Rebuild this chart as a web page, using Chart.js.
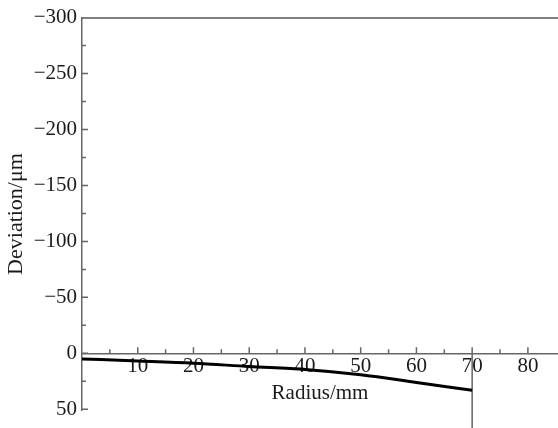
<!DOCTYPE html>
<html>
<head>
<meta charset="utf-8">
<script src="https://cdn.jsdelivr.net/npm/chart.js@4/dist/chart.umd.min.js"></script>
<style>
  html, body { margin: 0; padding: 0; background: #fff; }
  #wrap { width: 558px; height: 428px; position: relative; }
</style>
</head>
<body>
<div id="wrap"><canvas id="c"></canvas></div>
<script>
// ---- data ----
const radius = [0, 10, 20, 30, 40, 50, 60, 70];
const deviation = [5, 6.8, 8.8, 11.8, 14.5, 19.2, 26, 33];
const boundaryX = [70, 70];
const boundaryY = [0, 70];
const xTickValues = [10, 20, 30, 40, 50, 60, 70, 80];
const yTickValues = [-300, -250, -200, -150, -100, -50, 0, 50];
const xMinorValues = [5, 15, 25, 35, 45, 55, 65, 75];
const yMinorValues = [-275, -225, -175, -125, -75, -25, 25];

const FONT = "'Liberation Serif', 'Times New Roman', serif";
const AXIS_COLOR = '#666';

const tickMarks = {
  id: 'tickMarks',
  afterDatasetsDraw(chart) {
    const ctx = chart.ctx, x = chart.scales.x, y = chart.scales.y;
    const y0 = y.getPixelForValue(0);
    const xl = x.left;
    ctx.save();
    ctx.strokeStyle = AXIS_COLOR;
    ctx.lineWidth = 1.5;
    ctx.beginPath();
    xTickValues.forEach(v => { const px = x.getPixelForValue(v); ctx.moveTo(px, y0); ctx.lineTo(px, y0 - 6); });
    xMinorValues.forEach(v => { const px = x.getPixelForValue(v); ctx.moveTo(px, y0); ctx.lineTo(px, y0 - 4); });
    yTickValues.filter(v => v !== -300).forEach(v => { const py = y.getPixelForValue(v); ctx.moveTo(xl, py); ctx.lineTo(xl + 6, py); });
    yMinorValues.forEach(v => { const py = y.getPixelForValue(v); ctx.moveTo(xl, py); ctx.lineTo(xl + 4, py); });
    ctx.stroke();
    ctx.restore();
  }
};

new Chart(document.getElementById('c'), {
  type: 'line',
  data: {
    datasets: [
      {
        label: 'Deviation',
        data: radius.map((r, i) => ({ x: r, y: deviation[i] })),
        borderColor: '#000',
        borderWidth: 3,
        pointRadius: 0,
        tension: 0.4,
        cubicInterpolationMode: 'monotone',
        fill: false
      },
      {
        label: 'Boundary',
        data: boundaryX.map((r, i) => ({ x: r, y: boundaryY[i] })),
        borderColor: AXIS_COLOR,
        borderWidth: 1.5,
        pointRadius: 0,
        clip: false,
        fill: false
      }
    ]
  },
  options: {
    responsive: true,
    maintainAspectRatio: false,
    animation: false,
    events: [],
    layout: { padding: { left: 0, top: 17, right: 0, bottom: 13 } },
    plugins: { legend: { display: false }, tooltip: { enabled: false } },
    scales: {
      x: {
        type: 'linear',
        position: { y: 0 },
        min: 0,
        max: 85.4,
        afterBuildTicks(scale) { scale.ticks = xTickValues.map(v => ({ value: v })); },
        grid: { display: false, drawTicks: false },
        border: { display: true, color: AXIS_COLOR, width: 1.5 },
        ticks: {
          padding: 1,
          maxRotation: 0,
          autoSkip: false,
          color: '#1a1a1a',
          font: { family: FONT, size: 21 }
        },
        title: {
          display: true,
          text: 'Radius/mm',
          color: '#1a1a1a',
          font: { family: FONT, size: 21 },
          padding: { top: 0, bottom: 0 }
        }
      },
      xTop: {
        type: 'linear',
        axis: 'x',
        position: { y: -300 },
        min: 0,
        max: 85.4,
        grid: { display: false, drawTicks: false },
        border: { display: true, color: '#808080', width: 2 },
        ticks: { display: false }
      },
      y: {
        type: 'linear',
        position: 'left',
        reverse: true,
        min: -300,
        max: 51,
        afterBuildTicks(scale) { scale.ticks = yTickValues.map(v => ({ value: v })); },
        afterFit(scale) { scale.width = 82; },
        grid: { display: false, drawTicks: false },
        border: { display: true, color: AXIS_COLOR, width: 1.5 },
        ticks: {
          padding: 5,
          color: '#1a1a1a',
          font: { family: FONT, size: 21 },
          callback: v => (v < 0 ? '\u2212' + Math.abs(v) : String(v))
        },
        title: {
          display: true,
          text: 'Deviation/\u03bcm',
          color: '#1a1a1a',
          font: { family: FONT, size: 22 },
          padding: { top: 3, bottom: 0 }
        }
      }
    }
  },
  plugins: [tickMarks]
});
</script>
</body>
</html>
